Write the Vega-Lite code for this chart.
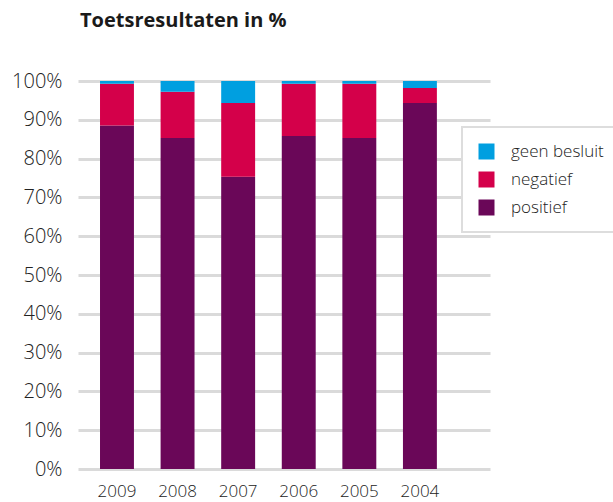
{
  "$schema": "https://vega.github.io/schema/vega-lite/v6.json",
  "autosize": {"type": "none"},
  "padding": {"left": 78, "top": 81, "right": 123, "bottom": 33},
  "width": 412,
  "height": 388,
  "title": {
    "text": "Toetsresultaten in %",
    "anchor": "start",
    "frame": "group",
    "font": "Open Sans",
    "fontSize": 20,
    "fontWeight": "bold",
    "color": "#1a1a1a",
    "offset": 40,
    "dx": 2
  },
  "config": {
    "view": {"stroke": null},
    "font": "Open Sans",
    "legend": {"strokeWidth": 2}
  },
  "data": {
    "values": [
      {"jaar": "2009", "uitslag": "positief", "pct": 88.5},
      {"jaar": "2009", "uitslag": "negatief", "pct": 10.8},
      {"jaar": "2009", "uitslag": "geen besluit", "pct": 0.7},
      {"jaar": "2008", "uitslag": "positief", "pct": 85.3},
      {"jaar": "2008", "uitslag": "negatief", "pct": 11.9},
      {"jaar": "2008", "uitslag": "geen besluit", "pct": 2.8},
      {"jaar": "2007", "uitslag": "positief", "pct": 75.3},
      {"jaar": "2007", "uitslag": "negatief", "pct": 19.0},
      {"jaar": "2007", "uitslag": "geen besluit", "pct": 5.7},
      {"jaar": "2006", "uitslag": "positief", "pct": 85.8},
      {"jaar": "2006", "uitslag": "negatief", "pct": 13.5},
      {"jaar": "2006", "uitslag": "geen besluit", "pct": 0.7},
      {"jaar": "2005", "uitslag": "positief", "pct": 85.3},
      {"jaar": "2005", "uitslag": "negatief", "pct": 14.0},
      {"jaar": "2005", "uitslag": "geen besluit", "pct": 0.7},
      {"jaar": "2004", "uitslag": "positief", "pct": 94.3},
      {"jaar": "2004", "uitslag": "negatief", "pct": 3.9},
      {"jaar": "2004", "uitslag": "geen besluit", "pct": 1.8}
    ]
  },
  "mark": {"type": "bar"},
  "encoding": {
    "x": {
      "field": "jaar",
      "type": "nominal",
      "sort": ["2009", "2008", "2007", "2006", "2005", "2004"],
      "scale": {"paddingInner": 0.44, "paddingOuter": 0.62, "align": 0.293},
      "axis": {
        "title": null,
        "labelAngle": 0,
        "ticks": false,
        "domain": false,
        "labelFontSize": 17,
        "labelFontWeight": 300,
        "labelColor": "#222222",
        "labelPadding": 14
      }
    },
    "y": {
      "field": "pct",
      "type": "quantitative",
      "stack": "zero",
      "scale": {"domain": [0, 100], "nice": false},
      "axis": {
        "title": null,
        "values": [0, 10, 20, 30, 40, 50, 60, 70, 80, 90, 100],
        "labelExpr": "datum.value + '%'",
        "ticks": false,
        "domain": false,
        "grid": true,
        "gridColor": "#dadada",
        "gridWidth": 3,
        "labelFontSize": 20,
        "labelFontWeight": 300,
        "labelColor": "#222222",
        "labelPadding": 16
      }
    },
    "color": {
      "field": "uitslag",
      "type": "nominal",
      "scale": {
        "domain": ["geen besluit", "negatief", "positief"],
        "range": ["#009fe0", "#d4004a", "#6a0758"]
      },
      "legend": {
        "title": null,
        "orient": "none",
        "legendX": 384,
        "legendY": 46,
        "symbolType": "square",
        "symbolSize": 256,
        "symbolStrokeWidth": 0,
        "labelFontSize": 17,
        "labelFontWeight": 300,
        "labelColor": "#222222",
        "labelOffset": 16,
        "rowPadding": 10,
        "padding": 16,
        "strokeColor": "#dddddd",
        "fillColor": "#ffffff"
      }
    }
  }
}
